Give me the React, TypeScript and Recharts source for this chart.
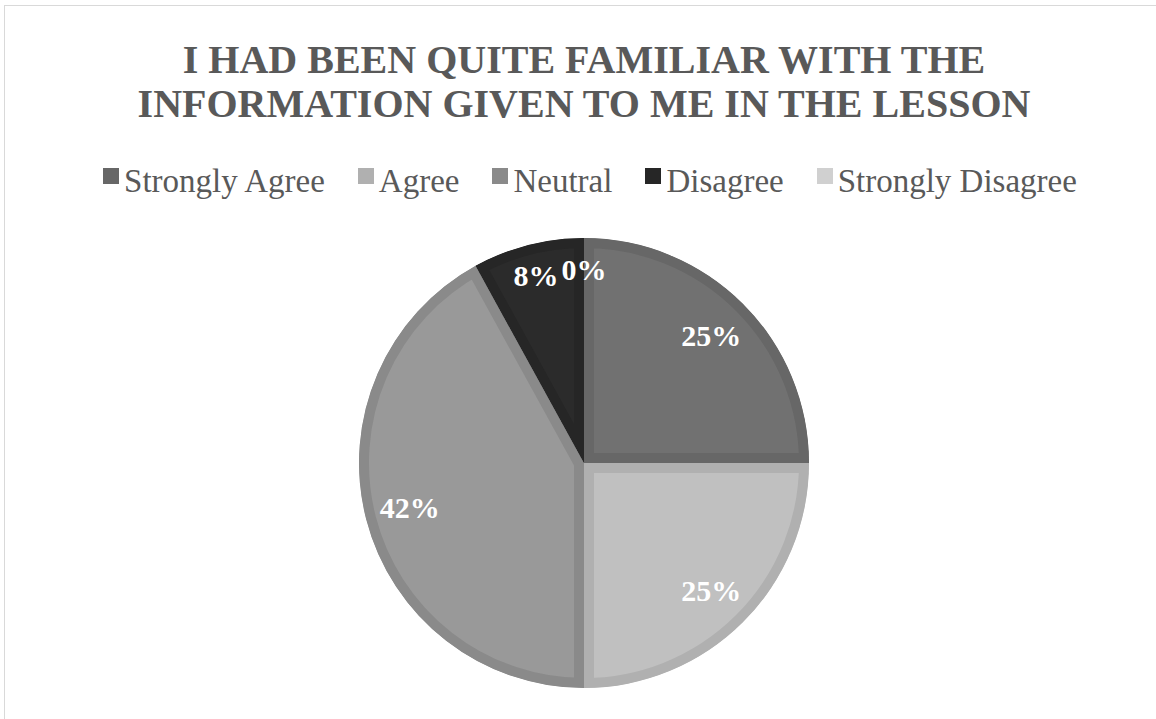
import React from 'react';
import { PieChart, Pie, Legend, Sector } from 'recharts';

const categories = ['Strongly Agree', 'Agree', 'Neutral', 'Disagree', 'Strongly Disagree'];
const shares = [25, 25, 42, 8, 0];
// edge colour (also legend swatch) and the lighter inner fill of each slice
const edgeColors = ['#676767', '#b0b0b0', '#8a8a8a', '#262626', '#d0d0d0'];
const innerColors = ['#717171', '#c0c0c0', '#999999', '#2b2b2b', '#d9d9d9'];

const data = categories.map((name, i) => ({ name, value: shares[i] }));

const FONT = '"Times New Roman", "Liberation Serif", Tinos, serif';
const RAD = Math.PI / 180;

function BevelSlice(props: any) {
  const { cx, cy, innerRadius, outerRadius, startAngle, endAngle, index } = props;
  if (startAngle === endAngle) return <g />;
  const id = `slice-clip-${index}`;
  const sector = (
    <Sector cx={cx} cy={cy} innerRadius={innerRadius} outerRadius={outerRadius}
      startAngle={startAngle} endAngle={endAngle} />
  );
  return (
    <g>
      <defs>
        <clipPath id={id}>{sector}</clipPath>
      </defs>
      <g clipPath={`url(#${id})`}>
        <Sector cx={cx} cy={cy} innerRadius={innerRadius} outerRadius={outerRadius}
          startAngle={startAngle} endAngle={endAngle}
          fill={innerColors[index]} stroke={edgeColors[index]} strokeWidth={20} />
      </g>
    </g>
  );
}

function SliceLabel(props: any) {
  const { cx, cy, midAngle, outerRadius, value } = props;
  const r = outerRadius * (value < 10 ? 0.86 : 0.8);
  const x = cx + r * Math.cos(-midAngle * RAD);
  const y = cy + r * Math.sin(-midAngle * RAD);
  return (
    <text x={x} y={y} fill="#ffffff" textAnchor="middle" dominantBaseline="central"
      style={{ fontFamily: FONT, fontWeight: 700, fontSize: 30 }}>
      {`${value}%`}
    </text>
  );
}

function LegendRow() {
  return (
    <div style={{ display: 'flex', justifyContent: 'center', gap: 33, fontFamily: FONT, fontSize: 33, lineHeight: '38px', color: '#595959' }}>
      {categories.map((c, i) => (
        <div key={c} style={{ display: 'flex', alignItems: 'flex-start', gap: 5 }}>
          <span style={{ width: 16, height: 16, background: edgeColors[i], display: 'inline-block', marginTop: 6 }} />
          <span>{c}</span>
        </div>
      ))}
    </div>
  );
}

export default function App() {
  return (
    <div style={{ position: 'absolute', left: 0, top: 0, width: 1156, height: 719, overflow: 'hidden', background: '#fff' }}>
      <div style={{ position: 'absolute', left: 4, top: 5, width: 1170, height: 730, border: '1.5px solid #d9d9d9' }} />
      <div style={{
        position: 'absolute', left: 0, top: 38, width: 1168, textAlign: 'center',
        fontFamily: FONT, fontWeight: 700, fontSize: 40, lineHeight: '44px', color: '#595959'
      }}>
        I HAD BEEN QUITE FAMILIAR WITH THE<br />INFORMATION GIVEN TO ME IN THE LESSON
      </div>
      <div style={{ position: 'absolute', left: 0, top: 0 }}>
        <PieChart width={1156} height={719} margin={{ top: 0, right: 0, bottom: 0, left: 0 }}>
          <Legend content={() => <LegendRow />} wrapperStyle={{ top: 162, left: 0, width: 1180 }} />
          <Pie data={data} dataKey="value" nameKey="name" cx={584} cy={463} outerRadius={225}
            startAngle={90} endAngle={-270} stroke="none" shape={BevelSlice}
            label={SliceLabel} labelLine={false} isAnimationActive={false} />
        </PieChart>
      </div>
    </div>
  );
}
